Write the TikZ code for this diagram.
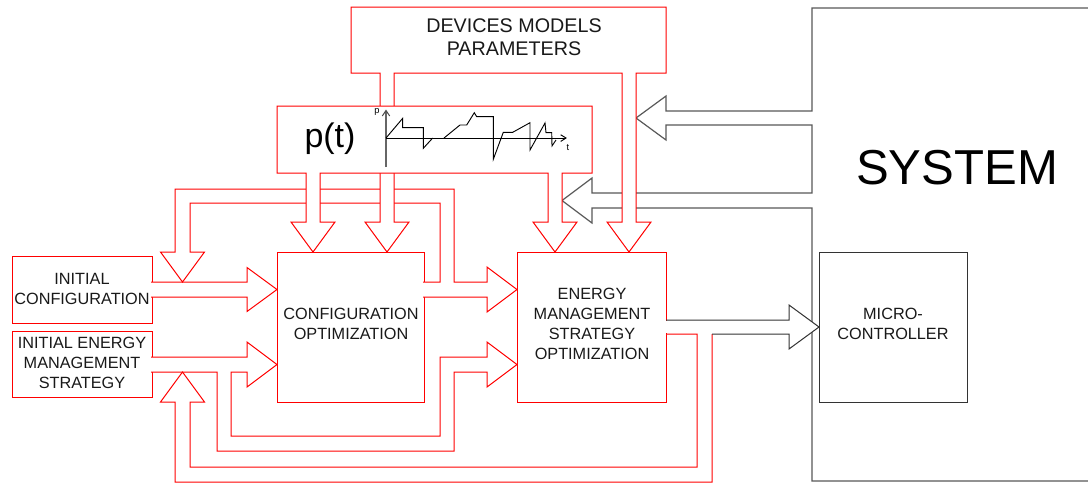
\documentclass[tikz,border=0pt]{standalone}
\usepackage{fontspec}
\setmainfont{Liberation Sans}
\usetikzlibrary{fit}
\begin{document}
\begin{tikzpicture}[x=0.75pt,y=-0.75pt,line join=miter,
  rl/.style={draw=red,line width=0.75pt,fill=white},
  bl/.style={draw=black!80,line width=0.75pt},
  sysline/.style={draw=black!65,line width=0.9pt},
  rbox/.style={draw=red,line width=0.75pt,inner sep=0pt},
  bbox/.style={draw=black!80,line width=0.75pt,inner sep=0pt},
  lbl/.style={font=\fontsize{12.2}{15}\selectfont,align=center,text=black!90},
  sig/.style={draw=black,line width=0.7pt},
]
\useasboundingbox (0,0) rectangle (1088,483);
\fill[white] (0,0) rectangle (1088,483);

% ---------- SYSTEM outline with its two input arrows ----------
\draw[sysline] (1088,8) -- (812,8) -- (812,111) -- (666,111) -- (666,96) -- (636,118)
  -- (666,140) -- (666,125) -- (812,125) -- (812,193) -- (592,193) -- (592,178)
  -- (562,200.5) -- (592,223) -- (592,208) -- (812,208) -- (812,481) -- (1088,481);
\node[font=\fontsize{36.8}{40}\selectfont,text=black] (sys) at (957,168) {SYSTEM};

% ---------- boxes ----------
\node[rbox,fit={(12,256) (152,323)}] (ic) {};
\node[rbox,fit={(12,331) (152,397)}] (iems) {};
\node[rbox,fit={(277,252) (424,402)}] (co) {};
\node[rbox,fit={(517,252) (666,402)}] (emso) {};
\node[bbox,fit={(819,252) (967,402)}] (mc) {};

\node[lbl] (icT) at (82,288.5) {INITIAL\\CONFIGURATION};
\node[lbl] (iemsT) at (82,362.5) {INITIAL ENERGY\\MANAGEMENT\\STRATEGY};
\node[lbl] (coT) at (351,323.5) {CONFIGURATION\\OPTIMIZATION};
\node[lbl] (emsoT) at (592,323.5) {ENERGY\\MANAGEMENT\\STRATEGY\\OPTIMIZATION};
\node[lbl] (mcT) at (893,324) {MICRO-\\CONTROLLER};

% ---------- IC -> CO ----------
\draw[rl] (151,282) -- (247,282) -- (247,267.5) -- (277,289.5) -- (247,311.5) -- (247,297) -- (151,297);

% ---------- CO output: to EMSO and feedback to IC arrow ----------
\draw[rl] (423,282) -- (440,282) -- (440,203) -- (190,203) -- (190,252) -- (204.5,252)
  -- (182.5,282) -- (160.5,252) -- (175,252) -- (175,189) -- (454,189) -- (454,282)
  -- (487,282) -- (487,267) -- (517,289.5) -- (487,312) -- (487,297) -- (423,297);

% ---------- IEMS output: to CO and to EMSO ----------
\draw[rl] (151,357) -- (247,357) -- (247,342) -- (277,364.5) -- (247,387) -- (247,372)
  -- (231,372) -- (231,436) -- (440,436) -- (440,357) -- (487,357) -- (487,342)
  -- (517,364.5) -- (487,387) -- (487,372) -- (454,372) -- (454,451) -- (217,451)
  -- (217,372) -- (151,372);

% ---------- EMSO output: to micro-controller and feedback ----------
\fill[white] (664,320.6) rectangle (713,333.4);
\draw[rl] (666,334) -- (697,334) -- (697,467) -- (190,467) -- (190,402) -- (204.5,402)
  -- (182.5,372) -- (160.5,402) -- (175,402) -- (175,482) -- (712,482) -- (712,334);
\draw[bl,fill=white] (712,334) -- (789,334) -- (789,349) -- (819,327) -- (789,305)
  -- (789,320) -- (666,320);

% ---------- DEVICES MODELS PARAMETERS ----------
\draw[rl] (351,7) -- (666,7) -- (666,73) -- (636,73) -- (636,222) -- (651,222) -- (629,252)
  -- (607,222) -- (622,222) -- (622,73) -- (394,73) -- (394,222) -- (409,222) -- (387,252)
  -- (365,222) -- (380,222) -- (380,73) -- (351,73) -- cycle;
\node[font=\fontsize{14.8}{17.25}\selectfont,align=center,text=black!90] (dmp) at (514,37.5)
  {DEVICES MODELS\\PARAMETERS};

% ---------- p(t) ----------
\draw[rl] (277,106) -- (592,106) -- (592,173) -- (562,173) -- (562,222) -- (577,222)
  -- (555,252) -- (533,222) -- (548,222) -- (548,173) -- (320,173) -- (320,222)
  -- (335,222) -- (313,252) -- (291,222) -- (306,222) -- (306,173) -- (277,173) -- cycle;
\node[font=\fontsize{25.5}{28}\selectfont,anchor=base,text=black] (pt) at (330,147) {p(t)};

% graph
\draw[draw=black!60,line width=1.1pt] (386,167) -- (386,111);
\draw[draw=black!70,line width=0.75pt] (382.3,116) -- (386,110.5) -- (389.7,116);
\draw[sig] (386,138) -- (566,138);
\draw[sig] (560.7,134.8) -- (566,138) -- (560.7,141.4);
\node[font=\fontsize{7}{8}\selectfont,inner sep=0pt] (plab) at (377,112) {p};
\node[font=\fontsize{7}{8}\selectfont,inner sep=0pt] (tlab) at (568,148) {t};
\draw[sig] (386,138) -- (402.7,118.3) -- (402.7,127.7) -- (423.3,127.7) -- (423.3,148.3) -- (432.7,138);
\draw[sig] (444,138) -- (460,125) -- (466.7,125) -- (474.3,112.7) -- (476.7,116.7) -- (493.3,116.7)
  -- (493.3,159.3) -- (503.3,132.3) -- (512.7,132.3) -- (530,122.7) -- (530,150) -- (545,123)
  -- (546,132.7) -- (551.7,132.7) -- (552,146) -- (556,140);
\end{tikzpicture}
\end{document}
